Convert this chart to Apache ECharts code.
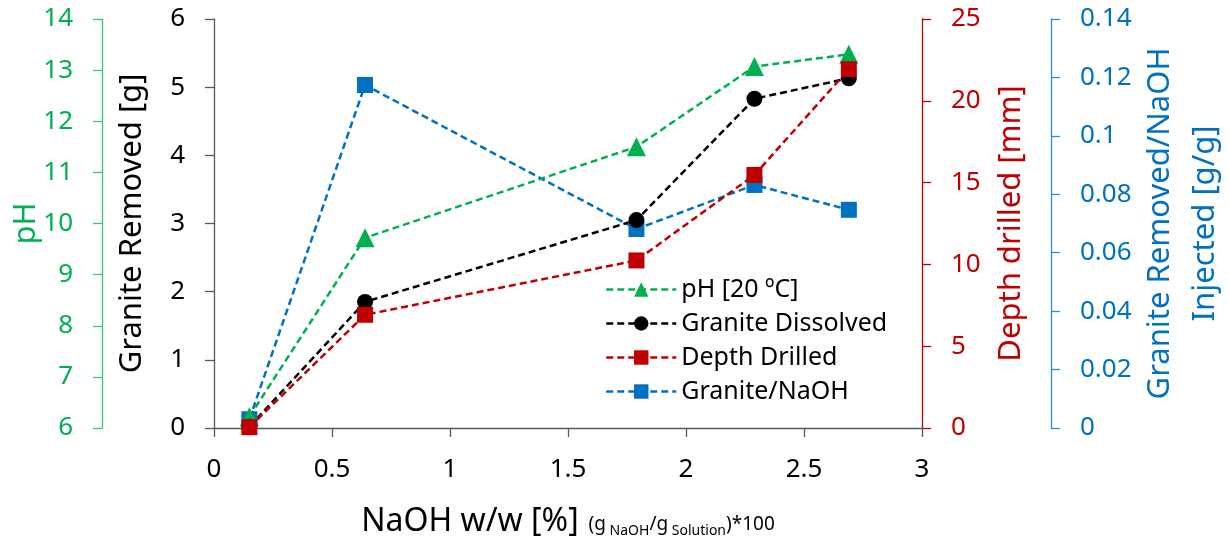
<!DOCTYPE html>
<html>
<head>
<meta charset="utf-8">
<script src="https://cdn.jsdelivr.net/npm/echarts@6/dist/echarts.min.js"></script>
<style>
  html, body { margin: 0; padding: 0; background: #fff; }
  #chart { width: 1229px; height: 540px; }
</style>
</head>
<body>
<div id="chart"></div>
<script>
// NaOH 浓度 (w/w %)
const naoh = [0.15, 0.64, 1.79, 2.29, 2.69];
const phValues = [6.22, 9.72, 11.5, 13.07, 13.31];
const graniteDissolved = [0.02, 1.85, 3.05, 4.83, 5.13];
const depthDrilled = [0.05, 6.92, 10.24, 15.47, 21.93];
const graniteper_naoh = [0.003, 0.1174, 0.0681, 0.0832, 0.0747];

const FONT = 'Noto Sans';
const GREEN = '#00B050';
const RED = '#C00000';
const BLUE = '#0070C0';
const GREY = '#595959';

const pairs = (ys) => naoh.map((x, i) => [x, ys[i]]);

const chart = echarts.init(document.getElementById('chart'));

const dash = [7, 4];

const baseAxis = (color, lineColor) => ({
  type: 'value',
  splitLine: { show: false },
  axisLine: { show: true, lineStyle: { color: lineColor, width: 1.3 } },
  axisTick: { show: true, inside: false, length: 9, lineStyle: { color: lineColor, width: 1.3 } },
  axisLabel: { color: color, fontSize: 26, fontFamily: FONT, margin: 29 },
  nameLocation: 'middle',
  nameRotate: 90,
  nameMoveOverlap: false,
  nameTextStyle: { color: color, fontSize: 31, fontFamily: FONT }
});

const option = {
  backgroundColor: '#fff',
  animation: false,
  grid: { left: 214, right: 307, top: 19, bottom: 112, outerBoundsMode: 'none', containLabel: false },
  legend: {
    data: ['pH [20 ºC]', 'Granite Dissolved', 'Depth Drilled', 'Granite/NaOH'],
    orient: 'vertical',
    left: 600,
    top: 272,
    itemWidth: 70,
    itemHeight: 18,
    itemGap: 9,
    lineStyle: { width: 2.5 },
    textStyle: { fontSize: 25, fontFamily: FONT, color: '#000' }
  },
  xAxis: {
    type: 'value',
    min: 0,
    max: 3,
    interval: 0.5,
    splitLine: { show: false },
    axisLine: { lineStyle: { color: GREY, width: 1.3 } },
    axisTick: { length: 9, lineStyle: { color: GREY, width: 1.3 } },
    axisLabel: { color: '#000', fontSize: 26, fontFamily: FONT, margin: 29 },
    name: '{big|NaOH w/w [%]}{sp|  }{sm|(g}{sub| NaOH}{sm|/g}{sub| Solution}{sm|)*100}',
    nameLocation: 'middle',
    nameGap: 72,
    nameTextStyle: {
      rich: {
        big: { fontSize: 32, fontFamily: FONT, color: '#000', lineHeight: 38, verticalAlign: 'bottom' },
        sp: { fontSize: 19, fontFamily: FONT, verticalAlign: 'bottom' },
        sm: { fontSize: 19, fontFamily: FONT, color: '#000', verticalAlign: 'bottom', padding: [0, 0, 4, 0] },
        sub: { fontSize: 14, fontFamily: FONT, color: '#000', verticalAlign: 'bottom', padding: [0, 0, 0, 0] }
      }
    }
  },
  yAxis: [
    Object.assign(baseAxis('#000', GREY), {
      position: 'left', offset: 0, min: 0, max: 6, interval: 1,
      name: 'Granite Removed [g]', nameGap: 66
    }),
    Object.assign(baseAxis(GREEN, '#3CC47A'), {
      position: 'left', offset: 112, min: 6, max: 14, interval: 1,
      name: 'pH', nameGap: 60
    }),
    Object.assign(baseAxis(RED, RED), {
      position: 'right', offset: 0, min: 0, max: 25, interval: 5,
      name: 'Depth drilled [mm]', nameGap: 74
    }),
    Object.assign(baseAxis(BLUE, '#2E8BD6'), {
      position: 'right', offset: 129, min: 0, max: 0.14, interval: 0.02,
      name: 'Granite Removed/NaOH\nInjected [g/g]', nameGap: 87,
      nameTextStyle: { color: BLUE, fontSize: 31, fontFamily: FONT, lineHeight: 45 }
    })
  ],
  series: [
    {
      name: 'Granite/NaOH', type: 'line', yAxisIndex: 3,
      data: pairs(graniteper_naoh),
      symbol: 'rect', symbolSize: 16,
      itemStyle: { color: BLUE },
      lineStyle: { color: BLUE, width: 2.5, type: dash }
    },
    {
      name: 'pH [20 ºC]', type: 'line', yAxisIndex: 1,
      data: pairs(phValues),
      symbol: 'triangle', symbolSize: 19,
      itemStyle: { color: GREEN },
      lineStyle: { color: GREEN, width: 2.5, type: dash }
    },
    {
      name: 'Granite Dissolved', type: 'line', yAxisIndex: 0,
      data: pairs(graniteDissolved),
      symbol: 'circle', symbolSize: 16,
      itemStyle: { color: '#000' },
      lineStyle: { color: '#000', width: 2.5, type: dash }
    },
    {
      name: 'Depth Drilled', type: 'line', yAxisIndex: 2,
      data: pairs(depthDrilled),
      symbol: 'rect', symbolSize: 16,
      itemStyle: { color: RED },
      lineStyle: { color: RED, width: 2.5, type: dash }
    }
  ]
};

chart.setOption(option);
</script>
</body>
</html>
